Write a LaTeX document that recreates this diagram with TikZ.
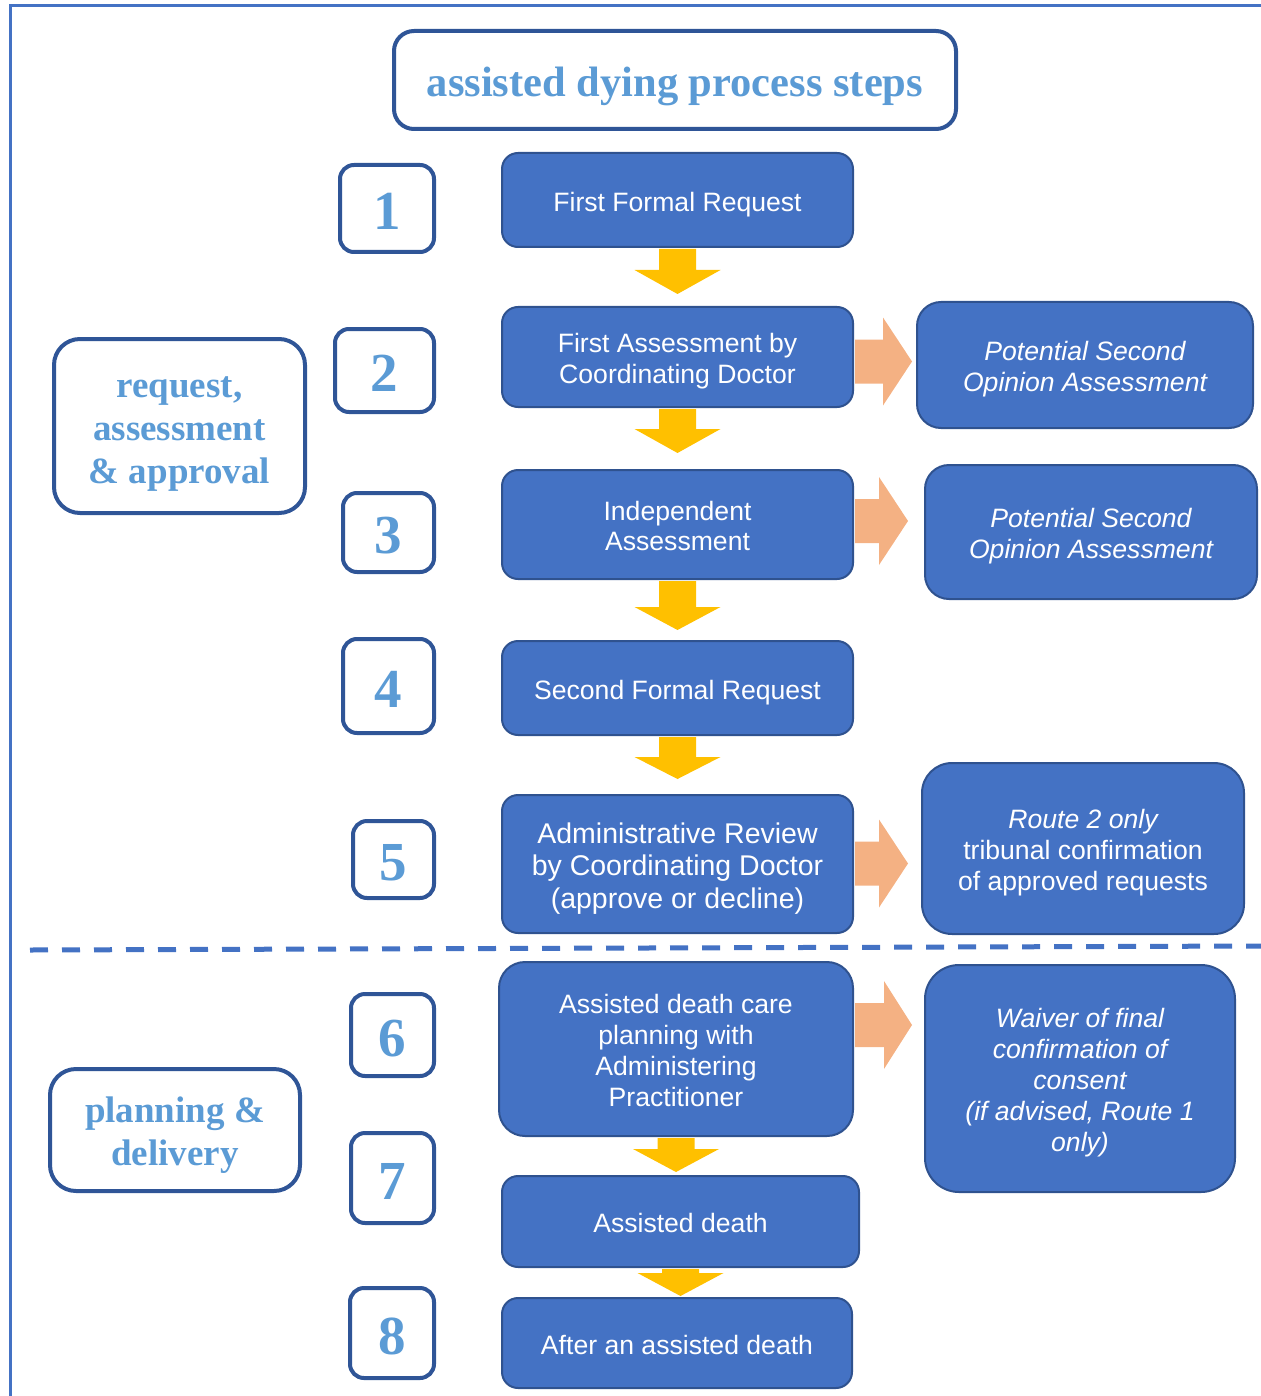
\documentclass[tikz,border=0pt]{standalone}
\usepackage{fontspec}
\setmainfont{Liberation Serif}
\setsansfont{Liberation Sans}
\usetikzlibrary{calc}
\definecolor{boxblue}{HTML}{4472C4}
\definecolor{edgeblue}{HTML}{2F528F}
\definecolor{darkline}{HTML}{2F5597}
\definecolor{lightblue}{HTML}{5B9BD5}
\definecolor{goldarrow}{HTML}{FFC000}
\definecolor{peacharrow}{HTML}{F4B183}
\newcommand{\tstrut}{\rule{0pt}{1.05em}}
\newcommand{\sstrut}{\rule{0pt}{1.0em}}
\tikzset{
  wh/.style 2 args={minimum width=#1pt, minimum height=#2pt},
  sanspad/.style={execute at begin node={\rule{0pt}{1.05em}},
    execute at end node={\rule[-0.22em]{0pt}{0.22em}}},
  serifpad/.style={execute at begin node={\rule{0pt}{1.0em}},
    execute at end node={\rule[-0.23em]{0pt}{0.23em}}},
  mainbox/.style={draw=edgeblue, line width=2pt, fill=boxblue, rounded corners=16pt,
    text=white, font=\sffamily\fontsize{26.6}{30.8}\selectfont, align=center, inner sep=0pt, sanspad},
  sidebox/.style={mainbox, rounded corners=24pt},
  numbox/.style={draw=darkline, line width=4pt, rounded corners=14pt, fill=white,
    text=lightblue, font=\bfseries\fontsize{55}{60}\selectfont, inner sep=0pt,
    execute at begin node={\rule{0pt}{0.78em}}},
  labelbox/.style={draw=darkline, line width=4pt, rounded corners=26pt, fill=white,
    text=lightblue, font=\bfseries\fontsize{37}{43}\selectfont, align=center, inner sep=0pt, serifpad},
  titlebox/.style={draw=darkline, line width=4pt, rounded corners=20pt, fill=white,
    text=lightblue, font=\bfseries\fontsize{42.5}{50}\selectfont, inner sep=0pt, serifpad},
  framestyle/.style={draw=boxblue, line width=3pt},
  sepline/.style={draw=boxblue, line width=5pt, dash pattern=on 18pt off 14pt},
  goldfill/.style={fill=goldarrow},
  peachfill/.style={fill=peacharrow}
}
% down arrow below a node: #1 node, #2 shaft length, #3 total length
\newcommand{\downarr}[3]{%
  \fill[goldfill] ($(#1.south)+(-18.5,1)$) -- ($(#1.south)+(-18.5,#2)$) -- ($(#1.south)+(-43,#2)$)
    -- ($(#1.south)+(0,#3)$) -- ($(#1.south)+(43,#2)$) -- ($(#1.south)+(18.5,#2)$)
    -- ($(#1.south)+(18.5,1)$) -- cycle;}
% right arrow from a node: #1 node, #2 vertical offset, #3 shaft length, #4 total length
\newcommand{\rightarr}[4]{%
  \fill[peachfill] ($(#1.east)+(1,#2-22)$) -- ($(#1.east)+(#3,#2-22)$) -- ($(#1.east)+(#3,#2-44)$)
    -- ($(#1.east)+(#4,#2)$) -- ($(#1.east)+(#3,#2+44)$) -- ($(#1.east)+(#3,#2+22)$)
    -- ($(#1.east)+(1,#2+22)$) -- cycle;}
\begin{document}
\begin{tikzpicture}[x=1pt, y=-1pt]
\useasboundingbox (0,0) rectangle (1260,1396);
% frame
\coordinate (frTL) at (10,6);
\coordinate (frTR) at (1262,6);
\coordinate (frBL) at (10,1398);
\draw[framestyle] (frTR) -- (frTL) -- (frBL);
% separator
\coordinate (sepL) at (30,950);
\coordinate (sepR) at (1262,946);
\draw[sepline] (sepL) -- (sepR);
% title
\node[titlebox, wh={562}{98}] (title) at (675,80) {assisted dying process steps};
% labels
\node[labelbox, wh={251}{174}] (lab1) at (179.5,426) {\sstrut request,\\assessment\\\& approval};
\node[labelbox, wh={250}{122}] (lab2) at (175,1130) {\sstrut planning \&\\delivery};
% numbers
\node[numbox, wh={94}{87}] (n1) at (387,208.5) {1};
\node[numbox, wh={99}{83}] (n2) at (384.5,370.5) {2};
\node[numbox, wh={91}{79}] (n3) at (388.5,532.5) {3};
\node[numbox, wh={91}{94}] (n4) at (388.5,686) {4};
\node[numbox, wh={81}{77}] (n5) at (393.5,859.5) {5};
\node[numbox, wh={83}{82}] (n6) at (392.5,1035) {6};
\node[numbox, wh={83}{90}] (n7) at (392.5,1178) {7};
\node[numbox, wh={84}{90}] (n8) at (392,1333) {8};
% main boxes
\node[mainbox, wh={351}{94}] (a1) at (677.5,200) {First Formal Request};
\node[mainbox, wh={351}{100}] (a2) at (677.5,357) {\tstrut First Assessment by\\Coordinating Doctor};
\node[mainbox, wh={351}{109}] (a3) at (677.5,524.5) {\tstrut Independent\\Assessment};
\node[mainbox, wh={351}{94}] (a4) at (677.5,688) {Second Formal Request};
\node[mainbox, wh={351}{138}, font=\sffamily\fontsize{28.5}{32.5}\selectfont] (a5) at (677.5,864) {\tstrut Administrative Review\\by Coordinating Doctor\\(approve or decline)};
\node[mainbox, wh={354}{174}, rounded corners=26pt] (a6) at (676,1049) {\tstrut Assisted death care\\planning with\\Administering\\Practitioner};
\node[mainbox, wh={357}{91}] (a7) at (680.5,1221.5) {Assisted death};
\node[mainbox, wh={350}{90}] (a8) at (677,1343) {After an assisted death};
% side boxes
\node[sidebox, wh={336}{126}] (b2) at (1085,365) {\tstrut\itshape Potential Second\\\itshape Opinion Assessment};
\node[sidebox, wh={332}{134}] (b3) at (1091,532) {\tstrut\itshape Potential Second\\\itshape Opinion Assessment};
\node[sidebox, wh={322}{171}, rounded corners=30pt] (b5) at (1083,848.5) {\tstrut\itshape Route 2 only\\tribunal confirmation\\of approved requests};
\node[sidebox, wh={310}{227}, rounded corners=34pt] (b6) at (1080,1078.5) {\tstrut\itshape Waiver of final\\\itshape confirmation of\\\itshape consent\\\itshape (if advised, Route 1\\\itshape only)};
% down arrows
\downarr{a1}{22}{46}
\downarr{a2}{21}{45}
\downarr{a3}{27}{50}
\downarr{a4}{21}{43}
\downarr{a6}{12}{35}
\downarr{a7}{5}{28}
% right arrows
\rightarr{a2}{4.5}{29}{58}
\rightarr{a3}{-3.5}{25}{54}
\rightarr{a5}{-0.5}{25}{54}
\rightarr{a6}{-24}{30}{58}
\end{tikzpicture}
\end{document}
